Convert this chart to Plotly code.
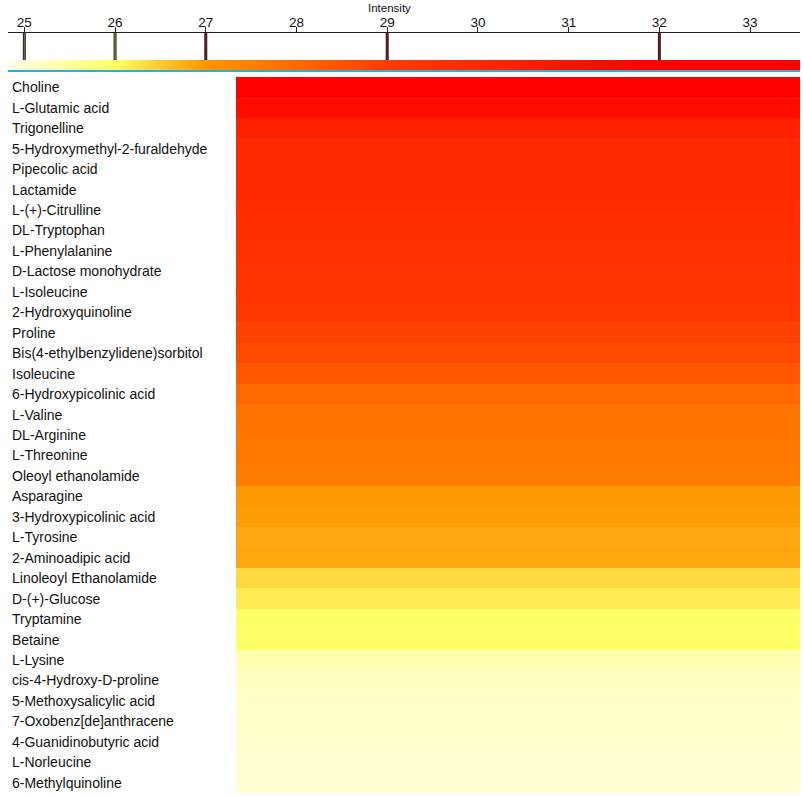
import plotly.graph_objects as go

# data

compounds = ["Choline", "L-Glutamic acid", "Trigonelline", "5-Hydroxymethyl-2-furaldehyde",
             "Pipecolic acid", "Lactamide", "L-(+)-Citrulline", "DL-Tryptophan",
             "L-Phenylalanine", "D-Lactose monohydrate", "L-Isoleucine", "2-Hydroxyquinoline",
             "Proline", "Bis(4-ethylbenzylidene)sorbitol", "Isoleucine", "6-Hydroxypicolinic acid",
             "L-Valine", "DL-Arginine", "L-Threonine", "Oleoyl ethanolamide",
             "Asparagine", "3-Hydroxypicolinic acid", "L-Tyrosine", "2-Aminoadipic acid",
             "Linoleoyl Ethanolamide", "D-(+)-Glucose", "Tryptamine", "Betaine",
             "L-Lysine", "cis-4-Hydroxy-D-proline", "5-Methoxysalicylic acid", "7-Oxobenz[de]anthracene",
             "4-Guanidinobutyric acid", "L-Norleucine", "6-Methylquinoline"]

intensity = [32.3, 31.4, 30.4, 30.0,
             29.9, 29.85, 29.8, 29.7,
             29.6, 29.5, 29.4, 29.2,
             28.9, 28.7, 28.4, 28.0,
             27.75, 27.7, 27.65, 27.55,
             26.97, 26.93, 26.83, 26.86,
             26.38, 26.18, 26.0, 26.0,
             25.35, 25.2, 25.15, 25.12,
             25.1, 25.08, 25.05]

# colour stops of the scale (value, colour)
stop_values = [25, 26, 27, 29, 32]
stop_colors = ["#FFFFD8", "#FFFF66", "#FF9600", "#FF3C00", "#FF0000"]
marker_colors = ["#6e6a48", "#8c8a2c", "#8a1a10", "#8a1a10", "#8a1a10"]

axis_ticks = [25, 26, 27, 28, 29, 30, 31, 32, 33]
zmin, zmax = 24.82, 33.55

W, H = 803, 796


def px(x):
    return x / W


def py(y):
    return 1 - y / H


scale = [[0, "#FFFFE6"]]
for v, c in zip(stop_values, stop_colors):
    scale.append([(v - zmin) / (zmax - zmin), c])
scale.append([1, "#FF0000"])

fig = go.Figure()

fig.add_trace(go.Heatmap(
    z=[[v] for v in intensity], x=["Intensity"], y=compounds,
    zmin=zmin, zmax=zmax, colorscale=scale,
    colorbar=dict(orientation="h", x=(px(8) + px(800)) / 2, xanchor="center", len=px(800) - px(8),
                  y=py(70), yanchor="bottom", thickness=10, xpad=0, ypad=0,
                  outlinewidth=0, ticks="", showticklabels=False),
))

# dummy trace for the top axis
fig.add_trace(go.Scatter(x=axis_ticks, y=[0.5] * len(axis_ticks), mode="markers",
                         marker=dict(opacity=0), xaxis="x2", yaxis="y2",
                         hoverinfo="skip", showlegend=False))

fig.update_layout(
    width=W, height=H, margin=dict(l=0, r=0, t=0, b=0),
    paper_bgcolor="white", plot_bgcolor="white", showlegend=False,
    font=dict(family="Liberation Sans, Arial, sans-serif", color="#111111"),
    xaxis=dict(domain=[px(236), px(800)], visible=False, fixedrange=True),
    yaxis=dict(domain=[py(793), py(77)], autorange="reversed", visible=False),
    xaxis2=dict(domain=[px(8), px(800)], anchor="y2", side="top", range=[zmin, zmax],
                tickvals=axis_ticks, ticks="outside", ticklen=5, tickcolor="#222",
                ticklabelstandoff=-5,
                showline=True, linecolor="#222", linewidth=1, mirror=True,
                showgrid=False, zeroline=False, tickfont=dict(size=13.5)),
    yaxis2=dict(domain=[py(60), py(33)], anchor="x2", range=[0, 1], visible=False),
)

# axis title
fig.add_annotation(x=px(389), y=py(8), xref="paper", yref="paper", text="Intensity",
                   yanchor="middle", showarrow=False, font=dict(size=11.5))

# stop markers
for v, c in zip(stop_values, marker_colors):
    fig.add_shape(type="line", xref="x2", yref="y2 domain", x0=v, x1=v, y0=0, y1=1,
                  line=dict(color="#222", width=3))
    fig.add_shape(type="line", xref="x2", yref="y2 domain", x0=v, x1=v, y0=0, y1=1,
                  line=dict(color=c, width=1.2))

# cyan line under the strip
fig.add_shape(type="line", xref="paper", yref="paper", x0=px(8), x1=px(800),
              y0=py(71), y1=py(71), line=dict(color="#1EB4E6", width=2))

# compound labels
for name in compounds:
    fig.add_annotation(x=px(10), xref="paper", y=name, yref="y", text=name,
                       xanchor="left", showarrow=False, font=dict(size=14))

fig.write_html("out.html", config={"displayModeBar": False},
               post_script="document.body.style.margin='0px';")
